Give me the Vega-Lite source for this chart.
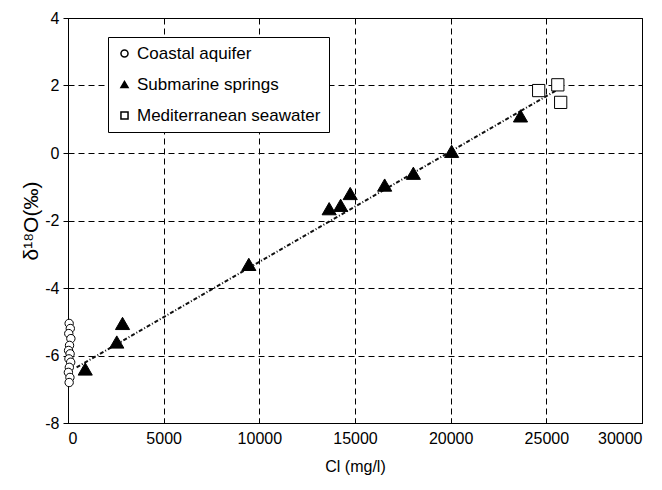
{
  "$schema": "https://vega.github.io/schema/vega-lite/v6.json",
  "autosize": "none",
  "width": 574,
  "height": 405,
  "padding": {"left": 68, "top": 18, "right": 20, "bottom": 67},
  "background": "white",
  "config": {
    "font": "Liberation Sans",
    "view": {"stroke": "black", "strokeWidth": 1},
    "axis": {
      "domainColor": "black",
      "tickColor": "black",
      "labelColor": "black",
      "titleColor": "black",
      "labelFont": "Liberation Sans",
      "titleFont": "Liberation Sans",
      "labelFontSize": 16,
      "titleFontWeight": "normal",
      "gridColor": "black",
      "gridDash": [6, 4],
      "gridOpacity": 1,
      "gridWidth": 1
    }
  },
  "datasets": {
    "pts": [
      {"Cl": 60, "d18O": -5.05, "group": "Coastal aquifer"},
      {"Cl": 120, "d18O": -5.2, "group": "Coastal aquifer"},
      {"Cl": 40, "d18O": -5.35, "group": "Coastal aquifer"},
      {"Cl": 150, "d18O": -5.5, "group": "Coastal aquifer"},
      {"Cl": 80, "d18O": -5.7, "group": "Coastal aquifer"},
      {"Cl": 30, "d18O": -5.85, "group": "Coastal aquifer"},
      {"Cl": 110, "d18O": -5.95, "group": "Coastal aquifer"},
      {"Cl": 50, "d18O": -6.1, "group": "Coastal aquifer"},
      {"Cl": 140, "d18O": -6.2, "group": "Coastal aquifer"},
      {"Cl": 70, "d18O": -6.35, "group": "Coastal aquifer"},
      {"Cl": 20, "d18O": -6.5, "group": "Coastal aquifer"},
      {"Cl": 100, "d18O": -6.65, "group": "Coastal aquifer"},
      {"Cl": 60, "d18O": -6.8, "group": "Coastal aquifer"},
      {"Cl": 900, "d18O": -6.4, "group": "Submarine springs"},
      {"Cl": 2550, "d18O": -5.6, "group": "Submarine springs"},
      {"Cl": 2850, "d18O": -5.05, "group": "Submarine springs"},
      {"Cl": 9450, "d18O": -3.3, "group": "Submarine springs"},
      {"Cl": 13650, "d18O": -1.65, "group": "Submarine springs"},
      {"Cl": 14250, "d18O": -1.55, "group": "Submarine springs"},
      {"Cl": 14750, "d18O": -1.2, "group": "Submarine springs"},
      {"Cl": 16550, "d18O": -0.95, "group": "Submarine springs"},
      {"Cl": 18050, "d18O": -0.6, "group": "Submarine springs"},
      {"Cl": 20050, "d18O": 0.05, "group": "Submarine springs"},
      {"Cl": 23650, "d18O": 1.1, "group": "Submarine springs"},
      {"Cl": 24600, "d18O": 1.85, "group": "Mediterranean seawater"},
      {"Cl": 25600, "d18O": 2.02, "group": "Mediterranean seawater"},
      {"Cl": 25750, "d18O": 1.5, "group": "Mediterranean seawater"}
    ],
    "fit": [
      {"Cl": 450, "d18O": -6.35},
      {"Cl": 25500, "d18O": 1.85}
    ]
  },
  "layer": [
    {
      "data": {"name": "fit"},
      "mark": {"type": "line", "color": "#111", "strokeWidth": 2, "strokeDash": [4, 2, 1, 2]},
      "encoding": {
        "x": {"field": "Cl", "type": "quantitative"},
        "y": {"field": "d18O", "type": "quantitative"}
      }
    },
    {
      "data": {"name": "pts"},
      "mark": {"type": "point", "filled": true, "stroke": "black", "strokeWidth": 1, "opacity": 1},
      "encoding": {
        "x": {
          "field": "Cl", "type": "quantitative",
          "scale": {"domain": [0, 30000], "nice": false},
          "axis": {
            "title": "Cl (mg/l)", "titleFontSize": 16, "titlePadding": 12,
            "values": [0, 5000, 10000, 15000, 20000, 25000, 30000],
            "format": "d", "tickSize": -5, "labelPadding": 12
          }
        },
        "y": {
          "field": "d18O", "type": "quantitative",
          "scale": {"domain": [-8, 4], "nice": false},
          "axis": {
            "title": "δ¹⁸O(‰)", "titleFontSize": 21, "titlePadding": 3,
            "values": [-8, -7.5, -7, -6.5, -6, -5.5, -5, -4.5, -4, -3.5, -3, -2.5, -2, -1.5, -1, -0.5, 0, 0.5, 1, 1.5, 2, 2.5, 3, 3.5, 4],
            "labelExpr": "abs(datum.value % 2) < 0.01 ? replace(datum.label, '−', '-') : ''",
            "gridOpacity": {"condition": {"test": "abs(datum.value % 2) < 0.01", "value": 1}, "value": 0},
            "tickSize": {"condition": {"test": "abs(datum.value % 2) < 0.01", "value": 5}, "value": -4},
            "labelPadding": 4
          }
        },
        "shape": {
          "field": "group", "type": "nominal",
          "scale": {"domain": ["Coastal aquifer", "Submarine springs", "Mediterranean seawater"], "range": ["circle", "triangle-up", "square"]},
          "legend": {
            "title": null, "orient": "none", "legendX": 40, "legendY": 19,
            "strokeColor": "black", "fillColor": "white", "padding": 8,
            "labelFontSize": 17, "labelFont": "Liberation Sans", "labelColor": "black",
            "labelLimit": 0,
            "rowPadding": 13, "symbolSize": 50, "labelOffset": 4,
            "encode": {"symbols": {"update": {"stroke": {"value": "black"}, "strokeWidth": {"value": 1}}}}
          }
        },
        "fill": {
          "field": "group", "type": "nominal",
          "scale": {"domain": ["Coastal aquifer", "Submarine springs", "Mediterranean seawater"], "range": ["white", "black", "white"]}
        },
        "size": {
          "condition": [
            {"test": "datum.group === 'Submarine springs'", "value": 200},
            {"test": "datum.group === 'Mediterranean seawater'", "value": 150}
          ],
          "value": 70
        }
      }
    }
  ]
}
